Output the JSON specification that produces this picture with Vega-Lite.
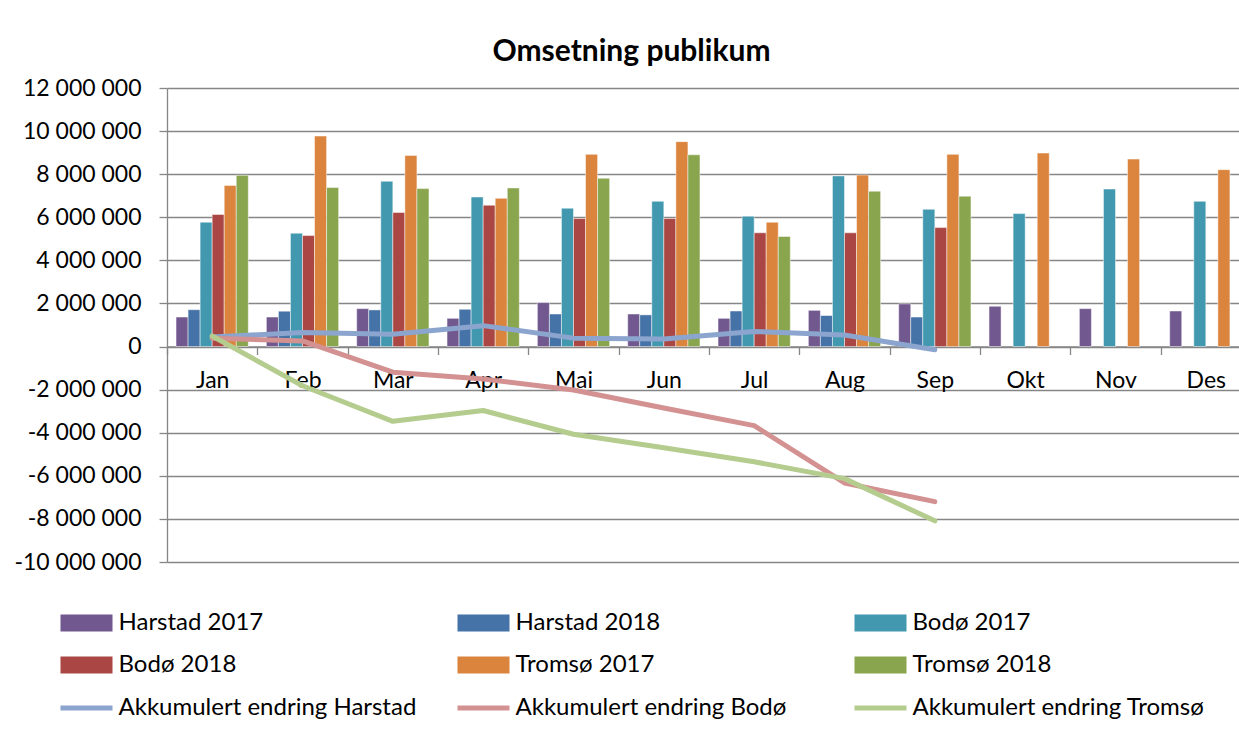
{
  "$schema": "https://vega.github.io/schema/vega-lite/v6.json",
  "autosize": "none",
  "padding": {"left": 167, "top": 88, "right": 0, "bottom": 174},
  "width": 1072,
  "height": 474,
  "background": "white",
  "title": {"text": "Omsetning publikum", "font": "Lato", "fontSize": 30, "fontWeight": "bold", "color": "black", "anchor": "middle", "frame": "group", "dx": -71.5, "dy": 39, "baseline": "alphabetic", "offset": 25},
  "datasets": {
    "bars": [
      {"month": "Jan", "series": "Harstad 2017", "value": 1370000},
      {"month": "Jan", "series": "Harstad 2018", "value": 1710000},
      {"month": "Jan", "series": "Bodø 2017", "value": 5770000},
      {"month": "Jan", "series": "Bodø 2018", "value": 6130000},
      {"month": "Jan", "series": "Tromsø 2017", "value": 7480000},
      {"month": "Jan", "series": "Tromsø 2018", "value": 7950000},
      {"month": "Feb", "series": "Harstad 2017", "value": 1370000},
      {"month": "Feb", "series": "Harstad 2018", "value": 1640000},
      {"month": "Feb", "series": "Bodø 2017", "value": 5260000},
      {"month": "Feb", "series": "Bodø 2018", "value": 5150000},
      {"month": "Feb", "series": "Tromsø 2017", "value": 9770000},
      {"month": "Feb", "series": "Tromsø 2018", "value": 7380000},
      {"month": "Mar", "series": "Harstad 2017", "value": 1760000},
      {"month": "Mar", "series": "Harstad 2018", "value": 1700000},
      {"month": "Mar", "series": "Bodø 2017", "value": 7670000},
      {"month": "Mar", "series": "Bodø 2018", "value": 6220000},
      {"month": "Mar", "series": "Tromsø 2017", "value": 8870000},
      {"month": "Mar", "series": "Tromsø 2018", "value": 7330000},
      {"month": "Apr", "series": "Harstad 2017", "value": 1310000},
      {"month": "Apr", "series": "Harstad 2018", "value": 1730000},
      {"month": "Apr", "series": "Bodø 2017", "value": 6940000},
      {"month": "Apr", "series": "Bodø 2018", "value": 6560000},
      {"month": "Apr", "series": "Tromsø 2017", "value": 6880000},
      {"month": "Apr", "series": "Tromsø 2018", "value": 7360000},
      {"month": "Mai", "series": "Harstad 2017", "value": 2040000},
      {"month": "Mai", "series": "Harstad 2018", "value": 1510000},
      {"month": "Mai", "series": "Bodø 2017", "value": 6420000},
      {"month": "Mai", "series": "Bodø 2018", "value": 5940000},
      {"month": "Mai", "series": "Tromsø 2017", "value": 8920000},
      {"month": "Mai", "series": "Tromsø 2018", "value": 7810000},
      {"month": "Jun", "series": "Harstad 2017", "value": 1510000},
      {"month": "Jun", "series": "Harstad 2018", "value": 1470000},
      {"month": "Jun", "series": "Bodø 2017", "value": 6740000},
      {"month": "Jun", "series": "Bodø 2018", "value": 5940000},
      {"month": "Jun", "series": "Tromsø 2017", "value": 9510000},
      {"month": "Jun", "series": "Tromsø 2018", "value": 8900000},
      {"month": "Jul", "series": "Harstad 2017", "value": 1310000},
      {"month": "Jul", "series": "Harstad 2018", "value": 1650000},
      {"month": "Jul", "series": "Bodø 2017", "value": 6050000},
      {"month": "Jul", "series": "Bodø 2018", "value": 5280000},
      {"month": "Jul", "series": "Tromsø 2017", "value": 5770000},
      {"month": "Jul", "series": "Tromsø 2018", "value": 5110000},
      {"month": "Aug", "series": "Harstad 2017", "value": 1680000},
      {"month": "Aug", "series": "Harstad 2018", "value": 1440000},
      {"month": "Aug", "series": "Bodø 2017", "value": 7920000},
      {"month": "Aug", "series": "Bodø 2018", "value": 5280000},
      {"month": "Aug", "series": "Tromsø 2017", "value": 7960000},
      {"month": "Aug", "series": "Tromsø 2018", "value": 7210000},
      {"month": "Sep", "series": "Harstad 2017", "value": 1980000},
      {"month": "Sep", "series": "Harstad 2018", "value": 1370000},
      {"month": "Sep", "series": "Bodø 2017", "value": 6370000},
      {"month": "Sep", "series": "Bodø 2018", "value": 5520000},
      {"month": "Sep", "series": "Tromsø 2017", "value": 8920000},
      {"month": "Sep", "series": "Tromsø 2018", "value": 6980000},
      {"month": "Okt", "series": "Harstad 2017", "value": 1870000},
      {"month": "Okt", "series": "Bodø 2017", "value": 6170000},
      {"month": "Okt", "series": "Tromsø 2017", "value": 8980000},
      {"month": "Nov", "series": "Harstad 2017", "value": 1760000},
      {"month": "Nov", "series": "Bodø 2017", "value": 7310000},
      {"month": "Nov", "series": "Tromsø 2017", "value": 8700000},
      {"month": "Des", "series": "Harstad 2017", "value": 1650000},
      {"month": "Des", "series": "Bodø 2017", "value": 6740000},
      {"month": "Des", "series": "Tromsø 2017", "value": 8210000}
    ],
    "lines": [
      {"month": "Jan", "series": "Akkumulert endring Harstad", "value": 440000},
      {"month": "Feb", "series": "Akkumulert endring Harstad", "value": 650000},
      {"month": "Mar", "series": "Akkumulert endring Harstad", "value": 570000},
      {"month": "Apr", "series": "Akkumulert endring Harstad", "value": 970000},
      {"month": "Mai", "series": "Akkumulert endring Harstad", "value": 390000},
      {"month": "Jun", "series": "Akkumulert endring Harstad", "value": 350000},
      {"month": "Jul", "series": "Akkumulert endring Harstad", "value": 700000},
      {"month": "Aug", "series": "Akkumulert endring Harstad", "value": 540000},
      {"month": "Sep", "series": "Akkumulert endring Harstad", "value": -150000},
      {"month": "Jan", "series": "Akkumulert endring Bodø", "value": 380000},
      {"month": "Feb", "series": "Akkumulert endring Bodø", "value": 260000},
      {"month": "Mar", "series": "Akkumulert endring Bodø", "value": -1190000},
      {"month": "Apr", "series": "Akkumulert endring Bodø", "value": -1510000},
      {"month": "Mai", "series": "Akkumulert endring Bodø", "value": -2020000},
      {"month": "Jun", "series": "Akkumulert endring Bodø", "value": -2850000},
      {"month": "Jul", "series": "Akkumulert endring Bodø", "value": -3670000},
      {"month": "Aug", "series": "Akkumulert endring Bodø", "value": -6330000},
      {"month": "Sep", "series": "Akkumulert endring Bodø", "value": -7200000},
      {"month": "Jan", "series": "Akkumulert endring Tromsø", "value": 490000},
      {"month": "Feb", "series": "Akkumulert endring Tromsø", "value": -1820000},
      {"month": "Mar", "series": "Akkumulert endring Tromsø", "value": -3470000},
      {"month": "Apr", "series": "Akkumulert endring Tromsø", "value": -2970000},
      {"month": "Mai", "series": "Akkumulert endring Tromsø", "value": -4070000},
      {"month": "Jun", "series": "Akkumulert endring Tromsø", "value": -4700000},
      {"month": "Jul", "series": "Akkumulert endring Tromsø", "value": -5350000},
      {"month": "Aug", "series": "Akkumulert endring Tromsø", "value": -6130000},
      {"month": "Sep", "series": "Akkumulert endring Tromsø", "value": -8090000}
    ]
  },
  "encoding": {
    "x": {
      "field": "month", "type": "nominal",
      "scale": {"domain": ["Jan", "Feb", "Mar", "Apr", "Mai", "Jun", "Jul", "Aug", "Sep", "Okt", "Nov", "Des"], "range": [0, 1084], "paddingInner": 0, "paddingOuter": 0},
      "axis": {"title": null, "orient": "bottom", "offset": -215.5, "labelAngle": 0, "labelFont": "Lato", "labelFontSize": 23, "labelColor": "black", "labelPadding": 15, "tickSize": 8, "tickBand": "extent", "tickColor": "#868686", "tickWidth": 1.3, "domainColor": "#868686", "domainWidth": 1.3, "grid": false, "labelLimit": 200}
    },
    "y": {
      "field": "value", "type": "quantitative",
      "scale": {"domain": [-10000000, 12000000], "nice": false, "zero": false},
      "axis": {"title": null, "values": [-10000000, -8000000, -6000000, -4000000, -2000000, 0, 2000000, 4000000, 6000000, 8000000, 10000000, 12000000], "labelExpr": "replace(replace(replace(format(datum.value, ','), ',', ' '), ',', ' '), '−', '-')", "labelFont": "Lato", "labelFontSize": 23, "labelColor": "black", "labelPadding": 18, "tickSize": 8, "tickColor": "#868686", "tickWidth": 1.3, "domainColor": "#868686", "domainWidth": 1.3, "grid": true, "gridColor": "#868686", "gridWidth": 1.3}
    }
  },
  "layer": [
    {
      "data": {"name": "bars"},
      "mark": {"type": "bar", "stroke": "white", "strokeWidth": 0.8, "strokeOpacity": 0.6},
      "encoding": {
        "xOffset": {"field": "series", "type": "nominal", "scale": {"domain": ["Harstad 2017", "Harstad 2018", "Bodø 2017", "Bodø 2018", "Tromsø 2017", "Tromsø 2018"], "paddingInner": 0, "paddingOuter": 0.75}},
        "color": {
          "field": "series", "type": "nominal",
          "scale": {
            "domain": ["Harstad 2017", "Harstad 2018", "Bodø 2017", "Bodø 2018", "Tromsø 2017", "Tromsø 2018"],
            "range": ["#71588F", "#4572A7", "#4198AF", "#AA4643", "#DB843D", "#89A54E"]
          },
          "legend": {
            "title": null, "orient": "none", "legendX": -110, "legendY": 523, "direction": "horizontal", "columns": 3, "gridAlign": "all", "columnPadding": 190, "rowPadding": 18, "padding": 0,
            "labelFont": "Lato", "labelFontSize": 24, "labelColor": "black", "labelLimit": 400, "labelOffset": 20,
            "symbolType": "M-3.06,-1H3.06V1H-3.06Z", "symbolSize": 289, "symbolOffset": 17.5, "symbolStrokeWidth": 0, "symbolOpacity": 1
          }
        }
      }
    },
    {
      "data": {"name": "lines"},
      "mark": {"type": "line", "strokeWidth": 5, "strokeCap": "round", "strokeJoin": "round"},
      "encoding": {
        "stroke": {
          "field": "series", "type": "nominal",
          "scale": {
            "domain": ["Akkumulert endring Harstad", "Akkumulert endring Bodø", "Akkumulert endring Tromsø"],
            "range": ["#8BA5CE", "#D39191", "#B5CC8F"]
          },
          "legend": {
            "title": null, "orient": "none", "legendX": -110, "legendY": 608, "direction": "horizontal", "columns": 3, "gridAlign": "all", "columnPadding": 30, "rowPadding": 18, "padding": 0,
            "labelFont": "Lato", "labelFontSize": 24, "labelColor": "black", "labelLimit": 400, "labelOffset": 20,
            "symbolType": "M-3.06,0H3.06", "symbolSize": 289, "symbolOffset": 17.5, "symbolStrokeWidth": 5, "symbolOpacity": 1
          }
        }
      }
    }
  ],
  "config": {
    "view": {"stroke": null},
    "font": "Lato"
  }
}
